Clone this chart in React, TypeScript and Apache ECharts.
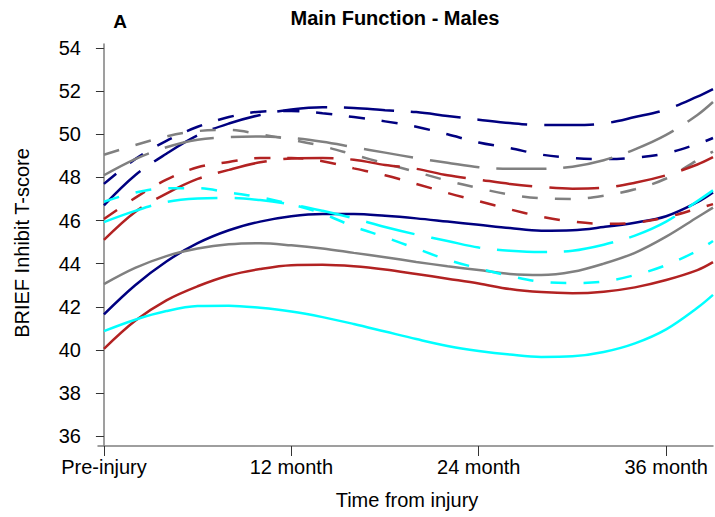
import React, { useEffect, useRef } from "react";
import * as echarts from "echarts";

const months = [0, 2, 4, 6, 8, 10, 12, 14, 16, 18, 20, 22, 24, 26, 28, 30, 32, 34, 36, 38, 39];

const navySolid = [41.65, 43.0, 44.1, 44.95, 45.55, 45.95, 46.2, 46.3, 46.3, 46.22, 46.1, 45.95, 45.8, 45.65, 45.53, 45.55, 45.7, 45.9, 46.2, 46.85, 47.3];
const navyShort = [47.7, 48.85, 49.7, 50.35, 50.8, 51.05, 51.08, 50.98, 50.8, 50.6, 50.35, 50.0, 49.62, 49.36, 49.06, 48.9, 48.85, 48.92, 49.12, 49.55, 49.83];
const navyLong = [46.7, 48.1, 49.1, 49.95, 50.5, 50.9, 51.15, 51.26, 51.22, 51.12, 51.03, 50.85, 50.68, 50.52, 50.43, 50.43, 50.5, 50.8, 51.15, 51.75, 52.1];
const graySolid = [43.05, 43.8, 44.35, 44.7, 44.9, 44.95, 44.85, 44.7, 44.5, 44.3, 44.08, 43.88, 43.7, 43.52, 43.47, 43.62, 44.0, 44.5, 45.25, 46.15, 46.6];
const grayShort = [49.05, 49.5, 49.9, 50.15, 50.2, 50.0, 49.75, 49.45, 49.05, 48.65, 48.25, 47.85, 47.5, 47.2, 47.03, 47.0, 47.15, 47.45, 47.95, 48.8, 49.2];
const grayLong = [48.1, 48.85, 49.4, 49.75, 49.87, 49.9, 49.83, 49.65, 49.4, 49.15, 48.9, 48.68, 48.47, 48.4, 48.4, 48.5, 48.8, 49.3, 49.97, 50.9, 51.5];
const redSolid = [40.05, 41.35, 42.3, 42.95, 43.45, 43.75, 43.93, 43.95, 43.88, 43.73, 43.52, 43.3, 43.08, 42.82, 42.68, 42.63, 42.7, 42.9, 43.24, 43.7, 44.07];
const redShort = [46.07, 47.05, 47.9, 48.47, 48.72, 48.9, 48.9, 48.75, 48.42, 48.1, 47.7, 47.28, 46.9, 46.52, 46.18, 45.95, 45.85, 45.9, 46.15, 46.55, 46.76];
const redLong = [45.1, 46.4, 47.25, 47.93, 48.35, 48.7, 48.88, 48.9, 48.82, 48.58, 48.4, 48.1, 47.9, 47.7, 47.56, 47.48, 47.52, 47.75, 48.1, 48.6, 48.94];
const cyanSolid = [40.87, 41.4, 41.8, 42.03, 42.05, 41.95, 41.78, 41.52, 41.2, 40.85, 40.5, 40.18, 39.95, 39.78, 39.67, 39.7, 39.9, 40.3, 40.95, 41.95, 42.55];
const cyanShort = [46.87, 47.3, 47.5, 47.5, 47.3, 47.08, 46.75, 46.32, 45.72, 45.23, 44.7, 44.18, 43.78, 43.43, 43.16, 43.1, 43.17, 43.47, 43.93, 44.6, 45.05];
const cyanLong = [45.93, 46.45, 46.86, 47.02, 47.05, 46.95, 46.75, 46.45, 46.1, 45.7, 45.35, 45.05, 44.75, 44.6, 44.54, 44.6, 44.88, 45.3, 45.95, 46.9, 47.4];

const xTickValues = [0, 12, 24, 36];
const xTickLabels = ["Pre-injury", "12 month", "24 month", "36 month"];
const yTickValues = [36, 38, 40, 42, 44, 46, 48, 50, 52, 54];

const NAVY = "#000080";
const GRAY = "#808080";
const RED = "#B22222";
const CYAN = "#00FFFF";

const SHORT = [16, 17];
const LONG = [50, 17];

const seriesDefs: [string, number[], string, any][] = [
  ["Navy solid", navySolid, NAVY, "solid"],
  ["Navy short dash", navyShort, NAVY, SHORT],
  ["Navy long dash", navyLong, NAVY, LONG],
  ["Gray solid", graySolid, GRAY, "solid"],
  ["Gray short dash", grayShort, GRAY, SHORT],
  ["Gray long dash", grayLong, GRAY, LONG],
  ["Red solid", redSolid, RED, "solid"],
  ["Red short dash", redShort, RED, SHORT],
  ["Red long dash", redLong, RED, LONG],
  ["Cyan solid", cyanSolid, CYAN, "solid"],
  ["Cyan short dash", cyanShort, CYAN, SHORT],
  ["Cyan long dash", cyanLong, CYAN, LONG],
];

const FONT = "'Liberation Sans', Arial, Helvetica, sans-serif";

export default function App() {
  const ref = useRef<HTMLDivElement>(null);
  useEffect(() => {
    document.body.style.margin = "0";
    if (!ref.current) return;
    const chart = echarts.init(ref.current, null, { renderer: "svg" });
    chart.setOption({
      animation: false,
      backgroundColor: "#ffffff",
      grid: { left: 98, right: 2, top: 44, bottom: 71, containLabel: false },
      xAxis: {
        type: "value",
        min: -0.38,
        max: 39,
        splitLine: { show: false },
        axisLine: { show: true, lineStyle: { color: "#7f7f7f", width: 1.5 } },
        axisTick: {
          show: true,
          customValues: xTickValues,
          length: 10,
          lineStyle: { color: "#333", width: 1 },
        },
        axisLabel: {
          customValues: xTickValues,
          formatter: (v: number) => xTickLabels[xTickValues.indexOf(Math.round(v))] ?? "",
          fontFamily: FONT,
          fontSize: 20,
          color: "#000",
          margin: 11,
        },
      },
      yAxis: {
        type: "value",
        min: 35.54,
        max: 54.19,
        splitLine: { show: false },
        axisLine: { show: true, lineStyle: { color: "#7f7f7f", width: 1.5 } },
        axisTick: {
          show: true,
          customValues: yTickValues,
          length: 8,
          lineStyle: { color: "#333", width: 1 },
        },
        axisLabel: {
          customValues: yTickValues,
          formatter: (v: number) => String(Math.round(v)),
          fontFamily: FONT,
          fontSize: 20,
          color: "#000",
          margin: 17,
        },
      },
      graphic: [
        {
          type: "text",
          x: 120,
          y: 21,
          style: { text: "A", font: `bold 19px ${FONT}`, fill: "#000", textAlign: "center", textVerticalAlign: "middle" },
        },
        {
          type: "text",
          x: 395,
          y: 18,
          style: { text: "Main Function - Males", font: `bold 20px ${FONT}`, fill: "#000", textAlign: "center", textVerticalAlign: "middle" },
        },
        {
          type: "text",
          x: 407,
          y: 500,
          style: { text: "Time from injury", font: `20px ${FONT}`, fill: "#000", textAlign: "center", textVerticalAlign: "middle" },
        },
        {
          type: "text",
          x: 22,
          y: 243,
          rotation: Math.PI / 2,
          style: { text: "BRIEF Inhibit T-score", font: `20px ${FONT}`, fill: "#000", textAlign: "center", textVerticalAlign: "middle" },
        },
      ],
      series: seriesDefs.map(([name, vals, color, type]) => ({
        name,
        type: "line",
        data: months.map((m, i) => [m, vals[i]]),
        smooth: 0.35,
        showSymbol: false,
        symbol: "none",
        lineStyle: { color, width: 2.5, type, cap: "butt" },
        z: 2,
      })),
    });
    return () => chart.dispose();
  }, []);
  return <div ref={ref} style={{ width: 715, height: 517 }} />;
}
